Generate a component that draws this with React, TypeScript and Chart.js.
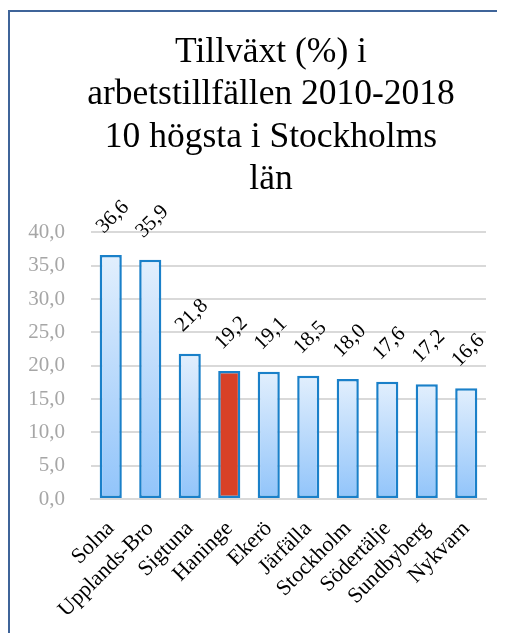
import React, { useEffect, useRef } from "react";
import { Chart, registerables } from "chart.js";

Chart.register(...registerables);

const categories = [
  "Solna",
  "Upplands-Bro",
  "Sigtuna",
  "Haninge",
  "Ekerö",
  "Järfälla",
  "Stockholm",
  "Södertälje",
  "Sundbyberg",
  "Nykvarn",
];
const growth = [36.6, 35.9, 21.8, 19.2, 19.1, 18.5, 18.0, 17.6, 17.2, 16.6];
const highlightIndex = 3;
const titleLines = [
  "Tillväxt (%) i",
  "arbetstillfällen 2010-2018",
  "10 högsta i Stockholms",
  "län",
];
const yMin = 0;
const yMax = 40;
const yStep = 5;

const FONT = "'Liberation Serif', 'DejaVu Serif', serif";
const fmt = (v: number) => v.toFixed(1).replace(".", ",");

const dataLabelPlugin = {
  id: "rotatedDataLabels",
  afterDatasetsDraw(chart: any) {
    const { ctx } = chart;
    const meta = chart.getDatasetMeta(0);
    ctx.save();
    ctx.fillStyle = "#000000";
    ctx.font = `21px ${FONT}`;
    ctx.textAlign = "center";
    ctx.textBaseline = "middle";
    meta.data.forEach((el: any, i: number) => {
      const v = chart.data.datasets[0].data[i] as number;
      ctx.save();
      ctx.translate(el.x + 2, el.y - 38);
      ctx.rotate(-Math.PI / 4);
      ctx.fillText(fmt(v), 0, 0);
      ctx.restore();
    });
    ctx.restore();
  },
};

export default function App() {
  const ref = useRef<HTMLCanvasElement | null>(null);

  useEffect(() => {
    if (!ref.current) return;
    const chart = new Chart(ref.current, {
      type: "bar",
      data: {
        labels: categories,
        datasets: [
          {
            data: growth,
            backgroundColor: (c: any) => {
              if (c.dataIndex === highlightIndex) return "#d84127";
              const chart = c.chart;
              const scales = chart.scales;
              if (!chart.chartArea || !scales || !scales.y) return "#bcdaf9";
              const top = scales.y.getPixelForValue(c.raw);
              const bottom = scales.y.getPixelForValue(0);
              const g = chart.ctx.createLinearGradient(0, top, 0, bottom);
              g.addColorStop(0, "#e2effd");
              g.addColorStop(1, "#91c4fa");
              return g;
            },
            borderColor: "#1a80c9",
            borderWidth: 2.5,
            borderSkipped: false,
            categoryPercentage: 1,
            barPercentage: 0.56,
          },
        ],
      },
      options: {
        responsive: false,
        animation: false,
        layout: { padding: 0 },
        plugins: {
          legend: { display: false },
          tooltip: { enabled: false },
          title: {
            display: true,
            text: titleLines,
            color: "#000000",
            font: { family: FONT, size: 35.5, weight: "normal", lineHeight: 1.2 },
            padding: { top: 19, bottom: 31 },
          },
        },
        scales: {
          x: {
            grid: { display: false },
            border: { display: true, color: "#d9d9d9", width: 2 },
            ticks: {
              color: "#000000",
              font: { family: FONT, size: 22 },
              maxRotation: 45,
              minRotation: 45,
              autoSkip: false,
              padding: 9,
            },
            afterFit: (s: any) => {
              s.height = 134;
            },
          },
          y: {
            min: yMin,
            max: yMax,
            grid: { color: "#d9d9d9", lineWidth: 2, drawTicks: false },
            border: { display: false },
            ticks: {
              stepSize: yStep,
              color: "#a6a6a6",
              font: { family: FONT, size: 21 },
              padding: 26,
              callback: (v: any) => fmt(Number(v)),
            },
            afterFit: (s: any) => {
              s.width = 81;
            },
          },
          spacer: {
            type: "linear",
            position: "right",
            display: true,
            grid: { display: false },
            border: { display: false },
            ticks: { display: false },
            afterFit: (s: any) => {
              s.width = 46;
            },
          },
        },
      },
      plugins: [dataLabelPlugin],
    });
    return () => chart.destroy();
  }, []);

  return (
    <div style={{ position: "relative", width: 497, height: 625, overflow: "hidden" }}>
      <div
        style={{
          position: "absolute",
          left: 0,
          top: 2,
          width: 700,
          height: 800,
          borderLeft: "2px solid #3f6499",
          borderTop: "2px solid #3f6499",
          background: "#ffffff",
        }}
      >
        <canvas ref={ref} width={522} height={621} style={{ display: "block", width: 522, height: 621 }} />
      </div>
    </div>
  );
}
